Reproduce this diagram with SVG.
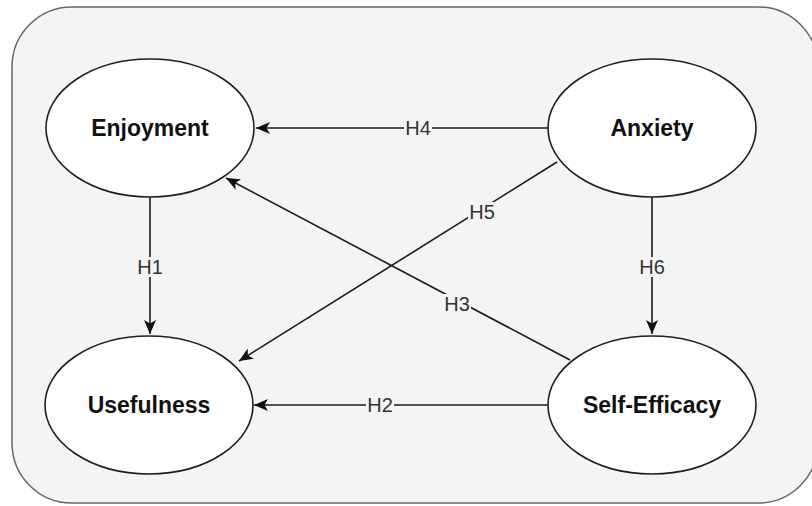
<svg xmlns="http://www.w3.org/2000/svg" width="812" height="506" viewBox="0 0 812 506">
  <style>
    .node ellipse { fill: #ffffff; stroke: #1f1f1f; stroke-width: 1.6; }
    .node text { font-family: "Liberation Sans", Arial, sans-serif; font-size: 23px; font-weight: bold; fill: #111111; text-anchor: middle; }
    .edge { fill: none; stroke: #1a1a1a; stroke-width: 1.6; marker-end: url(#arrow); }
    .lbl-bg { fill: #f4f4f4; }
    .lbl { font-family: "Liberation Sans", Arial, sans-serif; font-size: 20px; fill: #333333; text-anchor: middle; }
  </style>
  <defs>
    <marker id="arrow" viewBox="0 0 14 12" refX="14" refY="6" markerWidth="14" markerHeight="12" markerUnits="userSpaceOnUse" orient="auto">
      <path d="M0,0 L14,6 L0,12 L3.5,6 z" fill="#111111"/>
    </marker>
  </defs>

  <rect id="container" x="12" y="7" width="806" height="496" rx="60" ry="60" fill="#f4f4f4" stroke="#666666" stroke-width="1.5"/>

  <g id="connectors">
    <path class="edge" d="M548,128 L256,128"/>
    <path class="edge" d="M150,197 L150,334"/>
    <path class="edge" d="M652,197 L652,334"/>
    <path class="edge" d="M548,405 L254,405"/>
    <path class="edge" d="M557,162 L239,361"/>
    <path class="edge" d="M570,360 L226,178"/>
    <g id="labels">
      <rect class="lbl-bg" x="404" y="118" width="28" height="20"/>
      <text class="lbl" x="418" y="135">H4</text>
      <rect class="lbl-bg" x="468" y="202" width="28" height="20"/>
      <text class="lbl" x="482" y="219">H5</text>
      <rect class="lbl-bg" x="443" y="294" width="28" height="20"/>
      <text class="lbl" x="457" y="311">H3</text>
      <rect class="lbl-bg" x="136" y="257" width="28" height="20"/>
      <text class="lbl" x="150" y="274">H1</text>
      <rect class="lbl-bg" x="638" y="257" width="28" height="20"/>
      <text class="lbl" x="652" y="274">H6</text>
      <rect class="lbl-bg" x="366" y="395" width="28" height="20"/>
      <text class="lbl" x="380" y="412">H2</text>
    </g>
  </g>

  <g id="enjoyment" class="node">
    <ellipse cx="150" cy="128" rx="104" ry="69"/>
    <text x="150" y="136">Enjoyment</text>
  </g>
  <g id="anxiety" class="node">
    <ellipse cx="652" cy="128" rx="104" ry="69"/>
    <text x="652" y="136">Anxiety</text>
  </g>
  <g id="usefulness" class="node">
    <ellipse cx="149" cy="405" rx="104" ry="69"/>
    <text x="149" y="413">Usefulness</text>
  </g>
  <g id="self-efficacy" class="node">
    <ellipse cx="652" cy="405" rx="104" ry="69"/>
    <text x="652" y="413">Self-Efficacy</text>
  </g>
</svg>
